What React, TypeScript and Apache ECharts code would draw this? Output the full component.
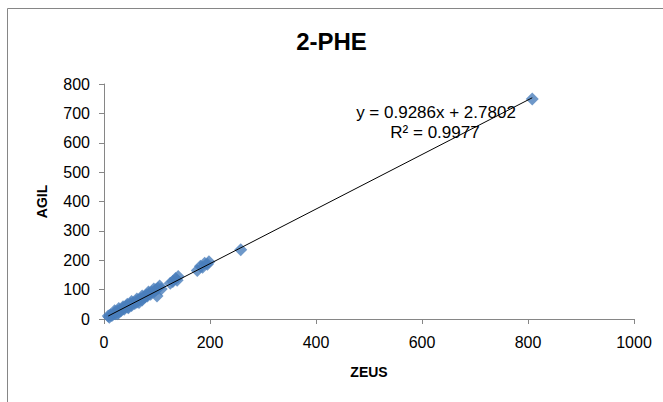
import React, { useEffect, useRef } from "react";
import * as echarts from "echarts";

const title = "2-PHE";
const xName = "ZEUS";
const yName = "AGIL";
const xTicks = [0, 200, 400, 600, 800, 1000];
const yTicks = [0, 100, 200, 300, 400, 500, 600, 700, 800];

const zeus = [8, 10, 12, 15, 18, 20, 22, 25, 27, 30, 32, 35, 38, 40, 42, 45, 48, 50, 52, 55, 58, 60, 62, 65, 68, 70, 72, 75, 78, 80, 82, 85, 88, 90, 95, 98, 100, 102, 105, 108, 125, 130, 135, 140, 138, 176, 182, 186, 190, 195, 198, 258, 808, 20, 28, 36, 44, 52, 62, 72, 84, 94, 26, 46, 66];
const agil = [10, 6, 14, 12, 17, 20, 18, 26, 22, 30, 28, 36, 33, 40, 44, 41, 47, 52, 46, 55, 53, 60, 57, 64, 66, 70, 65, 73, 76, 82, 78, 86, 84, 92, 94, 100, 78, 105, 112, 102, 122, 128, 138, 145, 132, 165, 180, 176, 190, 186, 195, 236, 749, 28, 36, 42, 50, 60, 68, 78, 92, 102, 18, 38, 56];

const slope = 0.9286;
const intercept = 2.7802;
const eqText = "y = 0.9286x + 2.7802";
const r2Text = "R² = 0.9977";

export default function App() {
  const ref = useRef<HTMLDivElement>(null);
  useEffect(() => {
    if (!ref.current) return;
    const chart = echarts.init(ref.current, undefined, { renderer: "svg" });
    const points = zeus.map((x, i) => [x, agil[i]]);
    const xmin = Math.min(...zeus);
    const xmax = Math.max(...zeus);
    const trend = [
      [xmin, slope * xmin + intercept],
      [xmax, slope * xmax + intercept],
    ];
    const font = "Liberation Sans, Arial, sans-serif";
    chart.setOption({
      animation: false,
      backgroundColor: "#ffffff",
      title: {
        text: title,
        left: "center",
        top: 24,
        textStyle: { fontFamily: font, fontSize: 24, fontWeight: "bold", color: "#000" },
      },
      grid: { left: 104, right: 29, top: 84, bottom: 83, containLabel: false },
      xAxis: {
        type: "value",
        min: 0,
        max: xTicks[xTicks.length - 1],
        interval: 200,
        name: xName,
        nameLocation: "middle",
        nameGap: 46,
        nameTextStyle: { fontFamily: font, fontSize: 14, fontWeight: "bold", color: "#000" },
        axisLine: { show: true, lineStyle: { color: "#868686" } },
        axisTick: { show: true, length: 5, lineStyle: { color: "#868686" } },
        axisLabel: { fontFamily: font, fontSize: 16, color: "#000", margin: 15, formatter: (v: number) => String(v) },
        splitLine: { show: false },
      },
      yAxis: {
        type: "value",
        min: 0,
        max: yTicks[yTicks.length - 1],
        interval: 100,
        name: yName,
        nameLocation: "middle",
        nameGap: 55,
        nameRotate: 90,
        nameTextStyle: { fontFamily: font, fontSize: 14, fontWeight: "bold", color: "#000" },
        axisLine: { show: true, lineStyle: { color: "#868686" } },
        axisTick: { show: true, length: 5, lineStyle: { color: "#868686" } },
        axisLabel: { fontFamily: font, fontSize: 16, color: "#000", margin: 14, formatter: (v: number) => String(v) },
        splitLine: { show: false },
      },
      series: [
        {
          type: "scatter",
          data: points,
          symbol: "diamond",
          symbolSize: 13,
          itemStyle: { color: "#4a7ebb" },
          z: 2,
        },
        {
          type: "line",
          data: trend,
          symbol: "none",
          lineStyle: { color: "#000", width: 1 },
          z: 3,
        },
      ],
      graphic: [
        {
          type: "rect",
          shape: { x: 7.5, y: 8.5, width: 700, height: 500 },
          style: { fill: "none", stroke: "#868686", lineWidth: 1 },
          silent: true,
        },
        {
          type: "text",
          x: 436,
          y: 112,
          style: { text: eqText, fontFamily: font, fontSize: 17, fill: "#000", align: "center", verticalAlign: "middle" },
          z: 10,
        },
        {
          type: "text",
          x: 435,
          y: 132,
          style: { text: r2Text, fontFamily: font, fontSize: 17, fill: "#000", align: "center", verticalAlign: "middle" },
          z: 10,
        },
      ],
    });
    return () => chart.dispose();
  }, []);
  return <div ref={ref} style={{ width: 663, height: 402, position: "absolute", left: 0, top: 0 }} />;
}
